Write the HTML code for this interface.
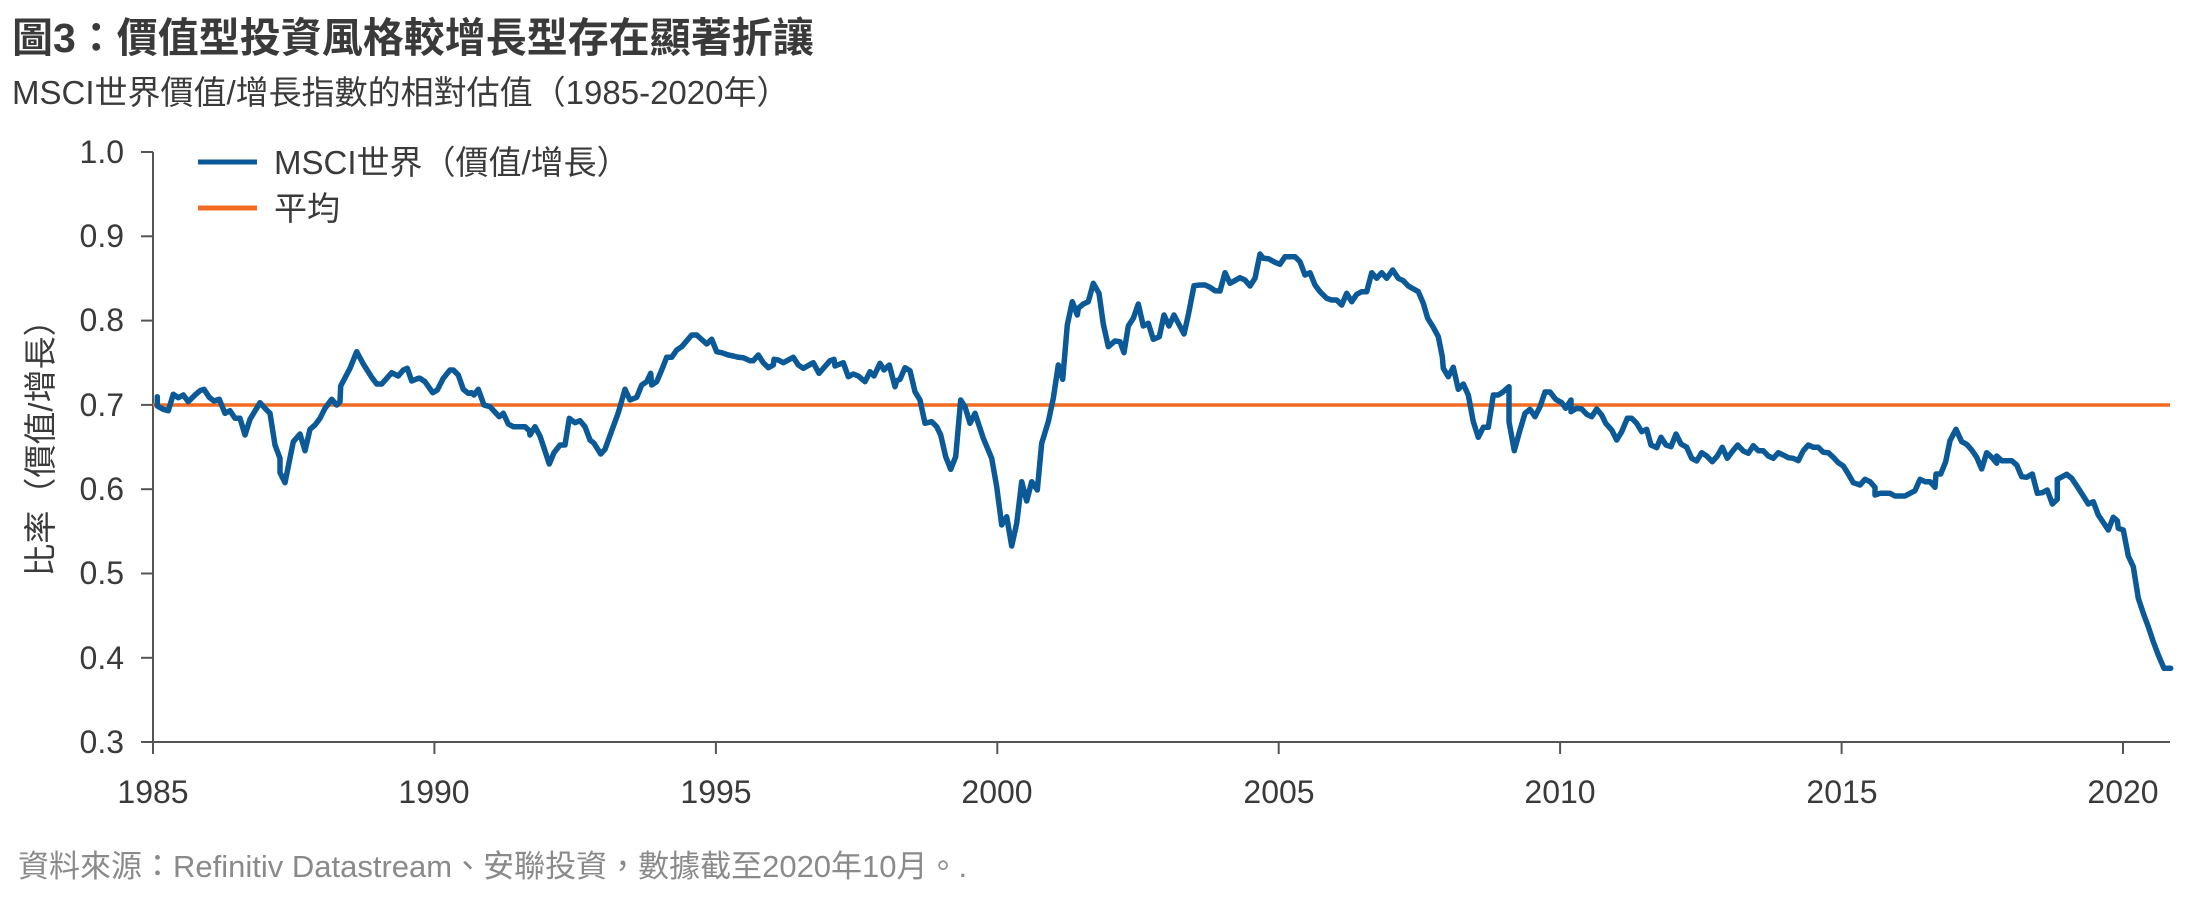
<!DOCTYPE html>
<html><head><meta charset="utf-8">
<style>
html,body{margin:0;padding:0;background:#fff;}
body{width:2204px;height:901px;overflow:hidden;position:relative;font-family:"Liberation Sans","Noto Sans CJK TC",sans-serif;color:#3a3a3a;}
.t{position:absolute;white-space:nowrap;}
</style></head><body>
<div class="t" style="left:12px;top:4px;font-size:41px;font-weight:bold;color:#3a3a3a;">圖3：價值型投資風格較增長型存在顯著折讓</div>
<div class="t" style="left:12px;top:66px;font-size:33px;color:#3a3a3a;">MSCI世界價值/增長指數的相對估值（1985-2020年）</div>
<svg width="2204" height="901" style="position:absolute;left:0;top:0" xmlns="http://www.w3.org/2000/svg">
<g font-family="Liberation Sans, Noto Sans CJK TC, sans-serif" fill="#3a3a3a" font-size="31">
<line x1="153" y1="152" x2="153" y2="743" stroke="#555" stroke-width="2"/>
<line x1="141" y1="742" x2="2170" y2="742" stroke="#555" stroke-width="2"/>
<g stroke="#555" stroke-width="2">
<line x1="141" y1="152" x2="153" y2="152"/><line x1="141" y1="236.3" x2="153" y2="236.3"/><line x1="141" y1="320.6" x2="153" y2="320.6"/><line x1="141" y1="404.9" x2="153" y2="404.9"/><line x1="141" y1="489.2" x2="153" y2="489.2"/><line x1="141" y1="573.5" x2="153" y2="573.5"/><line x1="141" y1="657.8" x2="153" y2="657.8"/>
<line x1="153" y1="742" x2="153" y2="754"/><line x1="434.4" y1="742" x2="434.4" y2="754"/><line x1="715.9" y1="742" x2="715.9" y2="754"/><line x1="997.3" y1="742" x2="997.3" y2="754"/><line x1="1278.7" y1="742" x2="1278.7" y2="754"/><line x1="1560.1" y1="742" x2="1560.1" y2="754"/><line x1="1841.6" y1="742" x2="1841.6" y2="754"/><line x1="2123" y1="742" x2="2123" y2="754"/>
</g>
<g text-anchor="end" font-size="32">
<text x="124" y="163">1.0</text><text x="124" y="247">0.9</text><text x="124" y="331">0.8</text><text x="124" y="416">0.7</text><text x="124" y="500">0.6</text><text x="124" y="584">0.5</text><text x="124" y="669">0.4</text><text x="124" y="753">0.3</text>
</g>
<g text-anchor="middle" font-size="32">
<text x="153" y="803">1985</text><text x="434" y="803">1990</text><text x="716" y="803">1995</text><text x="997" y="803">2000</text><text x="1279" y="803">2005</text><text x="1560" y="803">2010</text><text x="1842" y="803">2015</text><text x="2123" y="803">2020</text>
</g>
<text transform="translate(52,440) rotate(-90)" text-anchor="middle" font-size="33">比率（價值/增長）</text>
<line x1="198" y1="162" x2="257" y2="162" stroke="#0b5a97" stroke-width="5"/>
<line x1="198" y1="208" x2="257" y2="208" stroke="#f26b21" stroke-width="5"/>
<text x="274" y="174" font-size="33">MSCI世界（價值/增長）</text>
<text x="274" y="220" font-size="33">平均</text>
<line x1="153" y1="405" x2="2170" y2="405" stroke="#f26b21" stroke-width="3.5"/>
<polyline id="s" fill="none" stroke="#0b5a97" stroke-width="5.5" stroke-linejoin="round" stroke-linecap="round" points=""/>
<text x="18" y="877" font-size="31" fill="#8a8a8a">資料來源：Refinitiv Datastream、安聯投資，數據截至2020年10月。.</text>
</g>
</svg>
<script>
var segs=[
[150,300,[22,290,22,318,40,328,55,332,70,283,85,293,100,285,115,305,135,285,150,272,162,268,178,292,192,303,208,298,225,340,240,332,255,355,270,355,285,405,300,358,330,308,345,325,360,340,375,435,390,475,390,518,405,548,430,425,450,402,465,452,480,388,495,375,510,355,525,325,545,298,560,315,570,305,572,258,600,205,620,155,640,192,665,232,680,252,695,252,725,218,745,228,760,210,772,205,785,243,805,235]],
[420,300,[0,235,15,245,38,278,52,270,70,235,90,210,100,210,115,225,130,268,145,280,155,278,162,285,175,268,192,315,210,320,238,350,250,340,265,372,280,380,315,380,328,392,330,405,345,380,360,408,388,492,402,458,420,435,435,435,448,355,465,368,480,362,495,380,510,420,522,430,542,462,555,448,595,338,615,268,630,300,650,292,665,255,680,245,692,220,695,255,710,245,725,210,740,172,755,172,770,150,785,140,815,105,830,105]],
[700,240,[20,312,35,298,50,335,65,338,85,345,100,348,115,352,130,353,150,362,160,362,175,345,190,368,205,383,220,375,222,358,235,360,250,368,280,352,295,375,310,385,340,368,357,400,390,362,402,358,405,378,430,368,445,410,460,402,475,408,495,425,510,395,522,408,540,370,552,390,568,375,585,440,590,422,600,418,615,383,630,392,645,455,660,480,675,550,695,545,710,560,722,585,737,650,752,688,767,650,782,480,795,500,810,550,825,520,850,595,875,655,890,740,905,855,920,830,935,918,950,850,965,725,980,783,995,725,1012,750,1025,610,1045,545,1060,475,1075,375,1088,418,1102,255,1117,185,1132,225,1135,205,1150,192,1165,185,1180,130,1197,160,1210,252,1225,320,1245,303,1260,305,1272,338,1285,258,1300,235,1315,192,1330,258,1345,250,1360,298,1378,290,1392,225,1407,258,1422,225,1452,282,1465,225,1482,137]],
[1195,230,[15,165,30,165,45,172,60,182,75,183,90,128,105,160,135,143,150,150,165,168,180,145,195,72,205,85,220,86,240,97,255,103,270,80,300,80,315,95,330,135,345,128,360,165,375,185,395,205,410,210,425,210,440,225,455,190,470,215,485,193,500,185,515,185,530,128,545,145,560,128,575,145,593,120,610,145,625,152,640,168,670,185,685,220,698,265,715,292,730,320,742,380,745,415,760,440,775,412,790,478,805,462,820,495,835,575,850,622,865,592,880,592,895,495,910,495,925,485,942,470,942,575,958,662,975,600,990,550,1005,538,1020,560,1035,530,1050,486,1065,486,1082,508,1100,518,1112,535,1128,510,1128,545,1145,535,1160,537,1175,553,1190,560,1205,537,1220,555,1232,580,1250,600,1265,630,1280,605,1297,565,1310,565,1325,580,1340,605,1355,598,1368,645,1385,653,1398,622,1413,645,1428,650,1443,612,1458,642,1475,652]],
[1680,380,[35,235,50,243,65,218,80,228,97,245,112,228,127,202,142,235,158,213,173,195,190,213,205,220,220,197,235,212,250,212,265,228,280,235,295,218,310,225,325,233,340,235,355,242,370,212,385,195,400,202,415,202,430,217,445,218,460,232,475,248,490,258,505,282,520,308,540,315,555,298,570,305,585,322,585,345,600,340,630,340,645,348,675,348,690,340,705,332,720,298,735,305,750,305,765,322,768,282,782,282,797,245,810,182,828,148,845,185,860,193,875,210,890,232,905,267,920,218,935,232,950,250,950,228,965,242,995,242,1010,255,1025,290,1040,292,1057,282,1072,340,1087,338,1102,330,1117,372,1132,358,1132,298,1160,283,1175,295,1192,320,1210,348,1225,372,1240,365,1255,405,1285,450,1300,412,1312,422,1315,445,1330,450,1345,528,1360,560,1375,655,1390,700,1405,740,1420,785,1435,825,1452,865,1472,865]]
];
var pts=[];
segs.forEach(function(s){var a=s[2];for(var i=0;i<a.length;i+=2){pts.push((s[0]+a[i]/3).toFixed(1)+","+(s[1]+a[i+1]/3).toFixed(1));}});
document.getElementById("s").setAttribute("points",pts.join(" "));
</script>
</body></html>
